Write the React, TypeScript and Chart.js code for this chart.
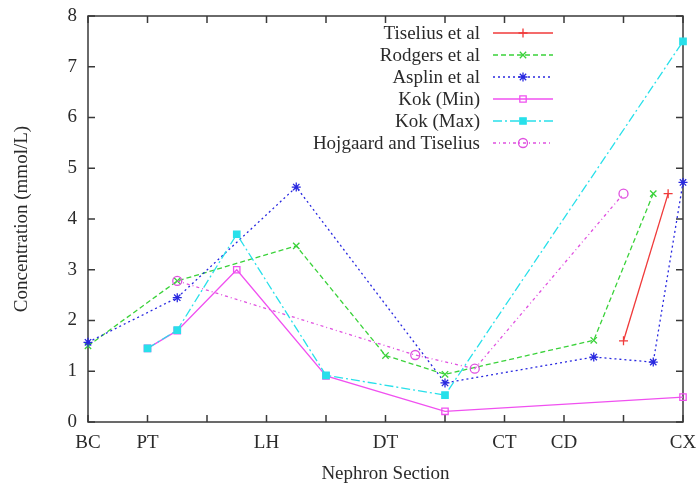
import React, { useEffect, useRef } from "react";
import { Chart, registerables } from "chart.js";
import { drawPoint } from "chart.js/helpers";

Chart.register(...registerables);

const tickPositions = [0, 1, 3, 5, 7, 8, 10];
const tickLabels = ["BC", "PT", "LH", "DT", "CT", "CD", "CX"];

const seriesNames = [
  "Tiselius et al",
  "Rodgers et al",
  "Asplin et al",
  "Kok (Min)",
  "Kok (Max)",
  "Hojgaard and Tiselius",
];

const tiseliusX = [9, 9.75];
const tiseliusY = [1.6, 4.5];
const rodgersX = [0, 1.5, 3.5, 5, 6, 8.5, 9.5];
const rodgersY = [1.5, 2.78, 3.47, 1.31, 0.94, 1.61, 4.5];
const asplinX = [0, 1.5, 3.5, 6, 8.5, 9.5, 10];
const asplinY = [1.57, 2.45, 4.63, 0.77, 1.28, 1.18, 4.72];
const kokMinX = [1, 1.5, 2.5, 4, 6, 10];
const kokMinY = [1.45, 1.8, 3.0, 0.91, 0.21, 0.49];
const kokMaxX = [1, 1.5, 2.5, 4, 6, 10];
const kokMaxY = [1.45, 1.81, 3.7, 0.92, 0.53, 7.5];
const hojX = [1.5, 5.5, 6.5, 9];
const hojY = [2.78, 1.32, 1.05, 4.5];

const FONT = "'Liberation Serif', 'Times New Roman', serif";
const TEXT = "#2a2a2a";

const styles = [
  { color: "#f03a3a", dash: [], point: "cross", fill: false },
  { color: "#3ad23a", dash: [5, 3], point: "crossRot", fill: false },
  { color: "#2828e0", dash: [2, 3], point: "star", fill: false },
  { color: "#f050f0", dash: [], point: "rect", fill: false },
  { color: "#28e0ea", dash: [9, 3, 2, 3], point: "rect", fill: true },
  { color: "#e050e0", dash: [3, 3, 1, 3], point: "circle", fill: false },
];

const xs = [tiseliusX, rodgersX, asplinX, kokMinX, kokMaxX, hojX];
const ys = [tiseliusY, rodgersY, asplinY, kokMinY, kokMaxY, hojY];

const framePlugin = {
  id: "frame",
  beforeDatasetsDraw(chart: any) {
    const { ctx, chartArea } = chart;
    const { left, right, top, bottom } = chartArea;
    const xScale = chart.scales.x;
    const yScale = chart.scales.y;
    ctx.save();
    ctx.strokeStyle = "#3a3a3a";
    ctx.lineWidth = 1.5;
    ctx.setLineDash([]);
    ctx.strokeRect(left, top, right - left, bottom - top);
    const tl = 7;
    ctx.beginPath();
    for (let v = 0; v <= 10; v++) {
      const px = xScale.getPixelForValue(v);
      ctx.moveTo(px, bottom);
      ctx.lineTo(px, bottom - tl);
      ctx.moveTo(px, top);
      ctx.lineTo(px, top + tl);
    }
    for (let v = 0; v <= 8; v++) {
      const py = yScale.getPixelForValue(v);
      ctx.moveTo(left, py);
      ctx.lineTo(left + tl, py);
      ctx.moveTo(right, py);
      ctx.lineTo(right - tl, py);
    }
    ctx.stroke();

    // axis titles
    ctx.fillStyle = TEXT;
    ctx.font = `19px ${FONT}`;
    ctx.textAlign = "center";
    ctx.textBaseline = "middle";
    ctx.fillText("Nephron Section", (left + right) / 2, 474);
    ctx.save();
    ctx.translate(22, (top + bottom) / 2);
    ctx.rotate(-Math.PI / 2);
    ctx.fillText("Concentration (mmol/L)", 0, 0);
    ctx.restore();
    ctx.restore();
  },
  afterDraw(chart: any) {
    const { ctx } = chart;
    ctx.save();
    // legend
    const textRight = 480;
    const sx0 = 493;
    const sx1 = 553;
    const startY = 33;
    const step = 22;
    chart.data.datasets.forEach((ds: any, i: number) => {
      const y = startY + i * step;
      ctx.fillStyle = TEXT;
      ctx.textAlign = "right";
      ctx.textBaseline = "middle";
      ctx.font = `19px ${FONT}`;
      ctx.fillText(ds.label, textRight, y + 1);
      ctx.strokeStyle = ds.borderColor;
      ctx.lineWidth = 1.3;
      ctx.setLineDash(ds.borderDash || []);
      ctx.beginPath();
      ctx.moveTo(sx0, y);
      ctx.lineTo(sx1, y);
      ctx.stroke();
      ctx.setLineDash([]);
      ctx.fillStyle = ds.pointBackgroundColor;
      ctx.strokeStyle = ds.pointBorderColor;
      ctx.lineWidth = ds.pointBorderWidth;
      drawPoint(
        ctx,
        {
          pointStyle: ds.pointStyle,
          radius: ds.pointRadius,
          borderWidth: ds.pointBorderWidth,
          rotation: 0,
        } as any,
        (sx0 + sx1) / 2,
        y
      );
    });
    ctx.restore();
  },
};

export default function App() {
  const ref = useRef<HTMLCanvasElement>(null);

  useEffect(() => {
    document.body.style.margin = "0";
    const canvas = ref.current;
    if (!canvas) return;

    const datasets = seriesNames.map((name, i) => {
      const s = styles[i];
      return {
        label: name,
        data: xs[i].map((x, j) => ({ x, y: ys[i][j] })),
        showLine: true,
        clip: false,
        borderColor: s.color,
        backgroundColor: s.fill ? s.color : "rgba(0,0,0,0)",
        pointBackgroundColor: s.fill ? s.color : "rgba(255,255,255,0)",
        pointBorderColor: s.color,
        borderWidth: 1.3,
        borderDash: s.dash,
        pointStyle: s.point,
        pointRadius: 4.5,
        pointBorderWidth: 1.3,
        fill: false,
        tension: 0,
        order: i === 4 ? 0 : 6 - i,
      };
    });

    const chart = new Chart(canvas, {
      type: "scatter",
      data: { datasets },
      options: {
        animation: false,
        responsive: false,
        maintainAspectRatio: false,
        layout: { padding: { left: 0, right: 16, top: 16, bottom: 0 } },
        plugins: {
          legend: { display: false },
          tooltip: { enabled: false },
        },
        scales: {
          x: {
            type: "linear",
            min: 0,
            max: 10,
            afterBuildTicks: (scale: any) => {
              scale.ticks = tickPositions.map((v) => ({ value: v }));
            },
            afterFit: (scale: any) => {
              scale.height = 69;
              scale.paddingLeft = 0;
              scale.paddingRight = 0;
            },
            grid: { display: false, drawTicks: false },
            border: { display: false },
            ticks: {
              autoSkip: false,
              maxRotation: 0,
              padding: 10,
              color: TEXT,
              font: { family: FONT, size: 19 },
              callback: (v: any) => {
                const idx = tickPositions.indexOf(Number(v));
                return idx >= 0 ? tickLabels[idx] : "";
              },
            },
          },
          y: {
            type: "linear",
            min: 0,
            max: 8,
            afterFit: (scale: any) => {
              scale.width = 88;
              scale.paddingTop = 0;
              scale.paddingBottom = 0;
            },
            grid: { display: false, drawTicks: false },
            border: { display: false },
            ticks: {
              stepSize: 1,
              padding: 11,
              color: TEXT,
              font: { family: FONT, size: 19 },
            },
          },
        },
      },
      plugins: [framePlugin],
    });

    return () => chart.destroy();
  }, []);

  return (
    <div style={{ width: 699, height: 491, background: "#fff" }}>
      <canvas ref={ref} width={699} height={491} style={{ display: "block" }} />
    </div>
  );
}
